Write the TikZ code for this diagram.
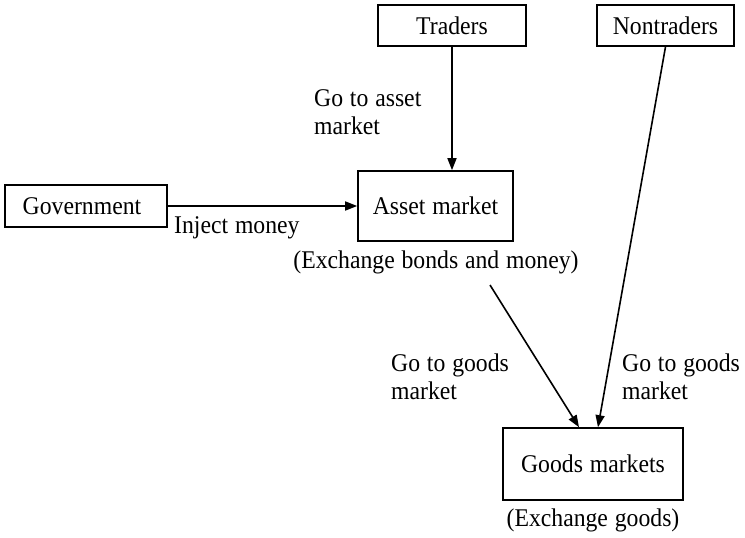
\documentclass[tikz,border=0pt]{standalone}
\usepackage{fontspec}
\setmainfont{Liberation Serif}[FakeStretch=0.93,WordSpace={1.15}]
\usetikzlibrary{arrows.meta,calc}
\begin{document}
\begin{tikzpicture}[x=1pt,y=1pt,
  box/.style={draw,line width=1.6pt,inner sep=0pt},
  arr/.style={line width=1.6pt,-{Triangle[length=12pt,width=9pt]}},
  lbl/.style={inner sep=0pt,align=left},
  every node/.style={font=\fontsize{25.5}{28}\selectfont}]
\useasboundingbox (0,0) rectangle (745,-538);
\node[box,minimum width=148,minimum height=41] (traders) at (452,-25.5) {Traders};
\node[box,minimum width=137,minimum height=41] (nontraders) at (665.5,-25.5) {Nontraders};
\node[box,minimum width=162,minimum height=42] (gov) at (86,-206) {\hspace*{-8pt}Government};
\node[box,minimum width=155,minimum height=70] (asset) at (435.5,-206) {Asset market};
\node[box,minimum width=180,minimum height=72] (goods) at (593,-464) {Goods markets};
\node[inner sep=0pt] (bonds) at (436,-262) {(Exchange bonds and money)};
\node[inner sep=0pt] (exgoods) at (593,-520) {(Exchange goods)};
\node[lbl,anchor=north west] (l1) at (314,-89) {Go to asset\\market};
\node[lbl,anchor=base west] (l2) at (174,-233) {Inject money};
\node[lbl,anchor=north west] (l3) at (391,-354) {Go to goods\\market};
\node[lbl,anchor=north west] (l4) at (622,-354) {Go to goods\\market};
\coordinate (a1) at (490,-285);
\draw[arr] (traders.south) -- (traders.south |- asset.north);
\draw[arr] (gov.east) -- (asset.west);
\draw[arr] (a1) -- ($(goods.north)+(-14,0)$);
\draw[arr] (nontraders.south) -- ($(goods.north)+(5,0)$);
\end{tikzpicture}
\end{document}
